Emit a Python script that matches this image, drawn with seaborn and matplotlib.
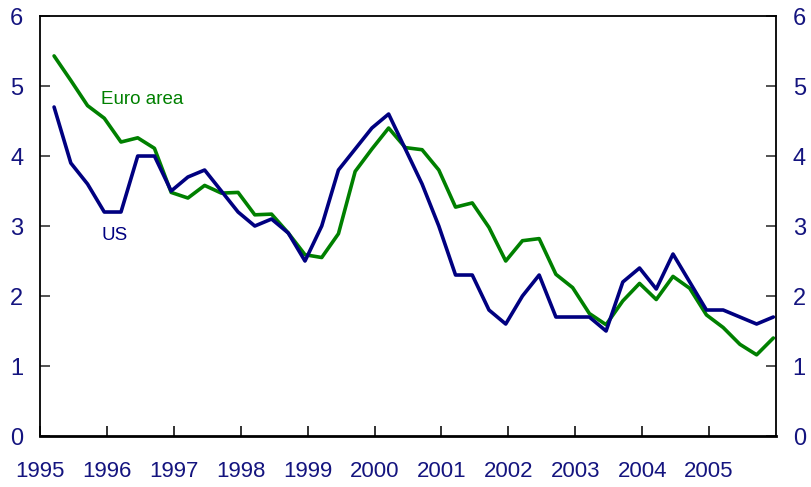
import numpy as np
import pandas as pd
import matplotlib
matplotlib.use("Agg")
import matplotlib.pyplot as plt
import seaborn as sns

# Quarterly series, 1995Q1 - 2005Q4
quarters = pd.period_range("1995Q1", "2005Q4", freq="Q")

us = [4.7, 3.9, 3.6, 3.2, 3.2, 4.0, 4.0, 3.5, 3.7, 3.8,
      3.5, 3.2, 3.0, 3.1, 2.9, 2.5, 3.0, 3.8, 4.1, 4.4,
      4.6, 4.1, 3.6, 3.0, 2.3, 2.3, 1.8, 1.6, 2.0, 2.3,
      1.7, 1.7, 1.7, 1.5, 2.2, 2.4, 2.1, 2.6, 2.2, 1.8,
      1.8, 1.7, 1.6, 1.7]

euro = [5.43, 5.08, 4.72, 4.54, 4.20, 4.26, 4.11, 3.48, 3.40, 3.58,
        3.47, 3.48, 3.16, 3.17, 2.90, 2.59, 2.55, 2.89, 3.78, 4.10,
        4.40, 4.12, 4.09, 3.80, 3.27, 3.33, 2.98, 2.50, 2.79, 2.82,
        2.31, 2.12, 1.75, 1.59, 1.93, 2.18, 1.95, 2.28, 2.11, 1.73,
        1.55, 1.31, 1.16, 1.40]

year_ticks = list(range(1995, 2006))

GREEN = "#008000"
NAVY = "#000080"
TEXT = "#14147f"

# decimal-year position of each quarter
t = quarters.year + (quarters.quarter - 1) / 4 + 0.21

df = pd.concat([
    pd.DataFrame({"t": t, "value": euro, "series": "Euro area"}),
    pd.DataFrame({"t": t, "value": us, "series": "US"}),
])

sns.set_style("white")
plt.rcParams["font.family"] = ["Liberation Sans", "DejaVu Sans"]

fig = plt.figure(figsize=(8.12, 4.87), dpi=100)
ax = fig.add_axes([0.0493, 0.1047, 0.9064, 0.8624])

sns.lineplot(data=df, x="t", y="value", hue="series",
             palette={"Euro area": GREEN, "US": NAVY},
             linewidth=2.6, ax=ax, legend=False)

ax.set_xlim(1995, 2006)
ax.set_ylim(0, 6)
ax.set_xticks(year_ticks)
ax.set_xticklabels([str(y) for y in year_ticks])
ax.set_yticks(range(0, 7))
ax.set_xlabel("")
ax.set_ylabel("")

ax.tick_params(axis="y", direction="in", length=7, width=1.3, color="#444444",
               left=True, right=True, labelleft=True, labelright=True,
               labelsize=17, labelcolor=TEXT, pad=12)
ax.tick_params(axis="x", direction="in", length=7, width=1.3, color="#222222",
               bottom=True, labelsize=16, labelcolor=TEXT, pad=18)

for side in ["left", "right", "top"]:
    ax.spines[side].set_color("black")
    ax.spines[side].set_linewidth(1.3)
ax.spines["bottom"].set_color("black")
ax.spines["bottom"].set_linewidth(2)

ax.text(1995.91, 4.74, "Euro area", color=GREEN, fontsize=13.5, va="baseline")
ax.text(1995.92, 2.80, "US", color=NAVY, fontsize=13.5, va="baseline")

plt.savefig("out.png", dpi=100)
plt.close()
